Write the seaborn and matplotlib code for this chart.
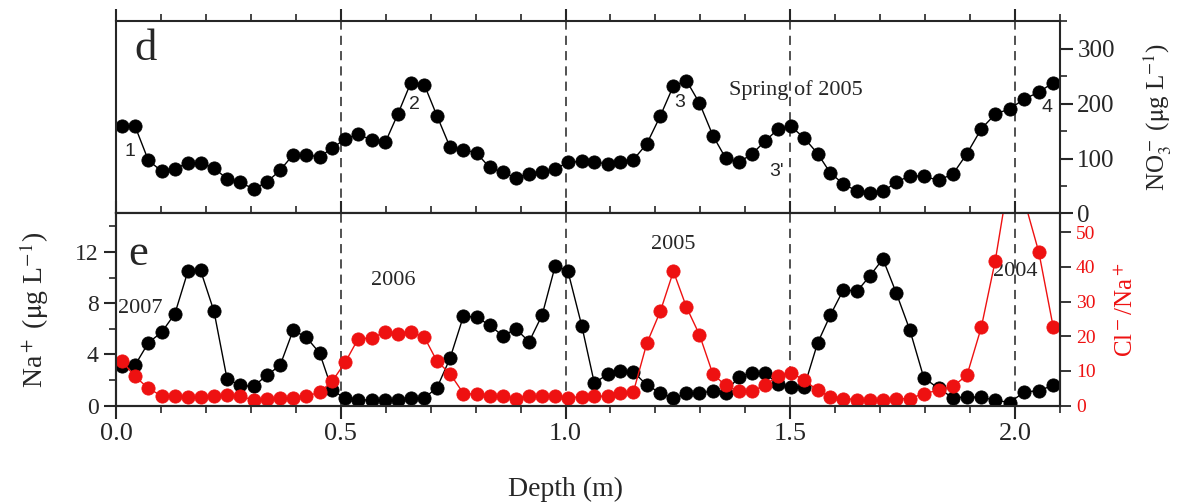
import matplotlib
matplotlib.use('Agg')
import matplotlib.pyplot as plt
import seaborn as sns
import pandas as pd
from matplotlib.ticker import MultipleLocator, FormatStrFormatter

# depth of each sample (m)
depth = [0.013, 0.042, 0.072, 0.102, 0.131, 0.160, 0.188, 0.218, 0.247, 0.276,
         0.306, 0.335, 0.365, 0.394, 0.423, 0.453, 0.481, 0.510, 0.539, 0.569,
         0.599, 0.627, 0.656, 0.686, 0.714, 0.743, 0.773, 0.802, 0.831, 0.860,
         0.890, 0.919, 0.948, 0.977, 1.005, 1.036, 1.064, 1.094, 1.122, 1.151,
         1.181, 1.211, 1.240, 1.269, 1.298, 1.328, 1.356, 1.385, 1.415, 1.443,
         1.473, 1.502, 1.531, 1.561, 1.589, 1.618, 1.649, 1.677, 1.706, 1.736,
         1.766, 1.797, 1.830, 1.862, 1.893, 1.925, 1.956, 1.988, 2.021, 2.053,
         2.085]

# NO3- (ug/L)
no3 = [159.5, 159.5, 96.6, 76.7, 81.6, 91.9, 91.9, 82.8, 62.9, 56.7,
       44.8, 56.7, 78.5, 106.9, 106.9, 102.8, 119.1, 135.4, 144.5, 132.9,
       129.2, 180.7, 238.0, 233.8, 177.6, 120.9, 116.0, 110.0, 83.9, 74.9,
       64.7, 72.5, 74.9, 81.0, 93.0, 94.8, 93.0, 90.6, 93.0, 97.9,
       126.9, 177.6, 232.0, 241.6, 200.7, 141.4, 101.0, 93.0, 108.2, 131.0,
       153.5, 158.2, 137.2, 108.8, 73.8, 53.8, 40.4, 38.0, 40.4, 56.7,
       68.9, 67.6, 60.4, 72.0, 108.8, 154.0, 180.7, 190.3, 208.4, 220.6,
       238.0]

# Na+ (ug/L)
na = [3.05, 3.13, 4.90, 5.74, 7.17, 10.49, 10.57, 7.36, 2.09, 1.57,
      1.49, 2.35, 3.13, 5.87, 5.35, 4.10, 1.20, 0.55, 0.47, 0.40,
      0.40, 0.40, 0.55, 0.60, 1.38, 3.68, 6.99, 6.89, 6.29, 5.45,
      5.97, 4.98, 7.07, 10.90, 10.54, 6.25, 1.77, 2.43, 2.71, 2.63,
      1.59, 0.99, 0.55, 0.94, 0.99, 1.12, 0.99, 2.24, 2.56, 2.56,
      1.67, 1.41, 1.46, 4.90, 7.05, 9.03, 8.95, 10.12, 11.45, 8.77,
      5.90, 2.17, 1.33, 0.60, 0.68, 0.63, 0.42, 0.23, 1.07, 1.15,
      1.59]

# Cl-/Na+ ratio
cl_na = [12.9, 8.4, 5.0, 2.7, 2.7, 2.6, 2.6, 2.7, 2.9, 2.7,
         1.6, 1.9, 2.1, 2.1, 2.7, 3.8, 7.0, 12.5, 19.3, 19.5,
         21.2, 20.7, 21.2, 19.7, 12.8, 9.2, 3.45, 3.26, 2.68, 2.68,
         2.0, 2.87, 2.68, 2.68, 2.3, 2.5, 2.68, 2.68, 3.64, 3.93,
         18.0, 27.2, 38.7, 28.4, 20.4, 9.0, 5.84, 4.12, 4.12, 5.84,
         8.5, 9.48, 7.28, 4.4, 2.6, 2.0, 1.72, 1.72, 1.72, 2.0,
         2.0, 3.45, 4.4, 5.56, 8.7, 22.6, 41.8, 67.0, 59.0, 44.2,
         22.6]

peak_labels = [("1", 0.030, 113), ("2", 0.665, 199), ("3", 1.255, 202),
               ("3'", 1.470, 77), ("4", 2.071, 192)]
year_labels = [("2007", 0.053, 7.6), ("2006", 0.617, 9.8),
               ("2005", 1.240, 12.55), ("2004", 2.001, 10.45)]

df = pd.DataFrame({'depth': depth, 'no3': no3, 'na': na, 'cl_na': cl_na})

sns.set_style('ticks')
plt.rcParams['font.family'] = ['Liberation Serif', 'DejaVu Serif']
plt.rcParams['mathtext.fontset'] = 'stix'
plt.rcParams['axes.linewidth'] = 1.5

red = '#ee1111'

fig = plt.figure(figsize=(11.8, 5.04), dpi=100)
ax_d = fig.add_axes([0.0983, 0.5764, 0.8, 0.3819])
ax_e = fig.add_axes([0.0983, 0.1954, 0.8, 0.3810])
ax_r = ax_e.twinx()

mk = dict(marker='o', markersize=9.5, markeredgewidth=0.6, linewidth=1.0)
sns.lineplot(data=df, x='depth', y='no3', ax=ax_d, color='black',
             markeredgecolor='black', **mk)
sns.lineplot(data=df, x='depth', y='na', ax=ax_e, color='black',
             markeredgecolor='black', **mk)
sns.lineplot(data=df, x='depth', y='cl_na', ax=ax_r, color=red,
             markeredgecolor=red, **mk)

# dashed lines at every half metre
for ax in (ax_d, ax_e):
    ax.set_xlim(0, 2.1)
    ax.xaxis.set_major_locator(MultipleLocator(0.5))
    ax.xaxis.set_minor_locator(MultipleLocator(0.1))
    ax.grid(axis='x', which='major', linestyle=(0, (6, 4)), color='#222222', linewidth=1.1)
    ax.set_axisbelow(True)

# panel d
ax_d.set_ylim(0, 350)
ax_d.yaxis.tick_right()
ax_d.yaxis.set_label_position('right')
ax_d.set_yticks([0, 100, 200, 300])
ax_d.yaxis.set_minor_locator(MultipleLocator(50))
ax_d.tick_params(axis='x', which='both', bottom=False, top=True,
                 labelbottom=False, direction='out')
ax_d.tick_params(axis='y', which='both', left=False, right=True, direction='out',
                 labelsize=18)
ax_d.tick_params(which='major', length=9, width=1.5)
ax_d.tick_params(which='minor', length=5, width=1.2)
ax_d.set_xlabel('')
ax_d.set_ylabel(r'NO$_3^-$ ($\mathrm{\mu}$g L$^{-1}$)', fontsize=18)
ax_d.yaxis.set_label_coords(1.086, 0.5)
ax_d.text(0.02, 0.797, 'd', transform=ax_d.transAxes, fontsize=32,
          ha='left', va='baseline')
for txt, x, y in peak_labels:
    ax_d.text(x, y, txt, fontsize=14, family=['Liberation Sans', 'DejaVu Sans'],
              ha='center', va='center')
ax_d.text(1.513, 225, 'Spring of 2005', fontsize=16, ha='center', va='center')

# panel e
ax_e.set_ylim(0, 15)
ax_e.set_yticks([0, 4, 8, 12])
ax_e.yaxis.set_minor_locator(MultipleLocator(2))
ax_e.xaxis.set_major_formatter(FormatStrFormatter('%.1f'))
ax_e.tick_params(axis='x', which='both', bottom=True, top=True, direction='out',
                 labelsize=19)
ax_e.tick_params(axis='y', which='both', left=True, right=False, direction='out',
                 labelsize=17)
ax_e.tick_params(which='major', length=9, width=1.5)
ax_e.tick_params(which='minor', length=5, width=1.2)
ax_e.set_xlabel('Depth (m)', fontsize=20)
ax_e.xaxis.set_label_coords(0.476, -0.37)
ax_e.set_ylabel(r'Na$^+$ ($\mathrm{\mu}$g L$^{-1}$)', fontsize=20)
ax_e.yaxis.set_label_coords(-0.069, 0.5)
ax_e.text(0.0127, 0.732, 'e', transform=ax_e.transAxes, fontsize=32,
          ha='left', va='baseline')
for txt, x, y in year_labels:
    ax_e.text(x, y, txt, fontsize=16, ha='center', va='center')

ax_r.set_ylim(0, 55.4)
ax_r.set_yticks([0, 10, 20, 30, 40, 50])
ax_r.tick_params(axis='y', direction='out', length=8, width=1.3,
                 labelsize=14, labelcolor=red)
ax_r.set_ylabel(r'Cl$^-$/Na$^+$', color=red, fontsize=18)
ax_r.yaxis.set_label_coords(1.058, 0.5)
ax_r.grid(False)

fig.savefig('out.png', dpi=100)
